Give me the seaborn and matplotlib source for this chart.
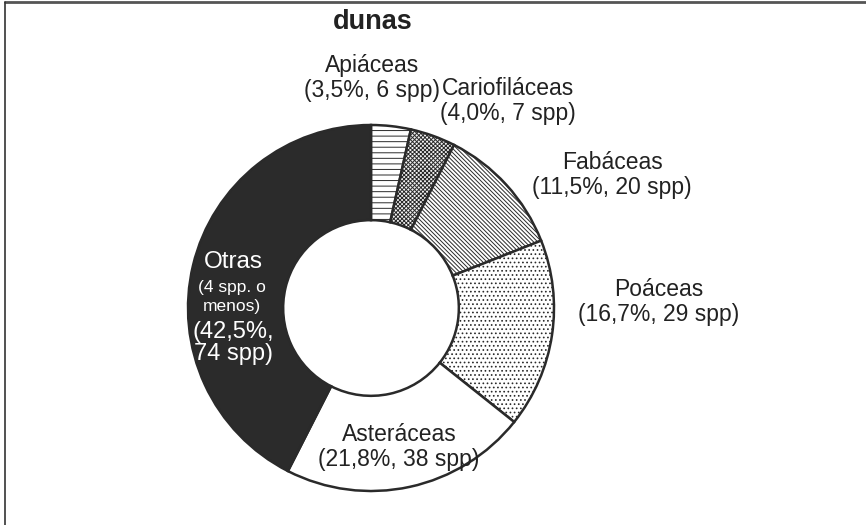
import matplotlib
matplotlib.use("Agg")
import matplotlib.pyplot as plt
import seaborn as sns
from matplotlib.lines import Line2D

sns.set_theme(style="white")
plt.rcParams['font.family'] = ['Liberation Sans', 'DejaVu Sans']
plt.rcParams['hatch.linewidth'] = 0.7
plt.rcParams['hatch.color'] = '#333333'

# data
families = ["Apiáceas", "Cariofiláceas", "Fabáceas", "Poáceas", "Asteráceas", "Otras"]
percents = [3.5, 4.0, 11.5, 16.7, 21.8, 42.5]
species = [6, 7, 20, 29, 38, 74]
pct_labels = ["3,5%", "4,0%", "11,5%", "16,7%", "21,8%", "42,5%"]

# styles
fills = ["white", "#f2f2f2", "white", "white", "white", "#2b2b2b"]
hatches = ["---", "xxxxxxxx", "\\\\\\\\\\\\\\\\", "....", "", ""]
label_pos = [(372, 78), (508, 101), (612, 175), (659, 302), (399, 447)]

W, H = 866, 525
fig = plt.figure(figsize=(W / 100, H / 100), dpi=100)
ax = fig.add_axes([0, 0, 1, 1])

cx, cy, R = 371, H - 308, 183
wedges, _ = ax.pie(percents, startangle=90, counterclock=False, radius=R,
                   center=(cx, cy), colors=fills,
                   wedgeprops=dict(width=R * 0.52, edgecolor="#2a2a2a", linewidth=1.8))
for w, h in zip(wedges, hatches):
    if h:
        w.set_hatch(h)

ax.set_xlim(0, W)
ax.set_ylim(0, H)
ax.set_aspect("equal")
ax.set_axis_off()

for name, pct, n, (x, y) in zip(families[:5], pct_labels[:5], species[:5], label_pos):
    ax.text(x, H - y, f"{name}\n({pct}, {n} spp)", ha="center", va="center",
            fontsize=16.5, color="#222222", linespacing=1.1)

# Otras label inside the dark wedge
ax.text(233, H - 262, families[5], ha="center", va="center", fontsize=17.5, color="white")
ax.text(232, H - 297, "(4 spp. o\nmenos)", ha="center", va="center", fontsize=12.5,
        color="white", linespacing=1.35)
ax.text(233, H - 343, f"({pct_labels[5]},\n{species[5]} spp)", ha="center", va="center",
        fontsize=17, color="white", linespacing=1.05)

# title
ax.text(373, H - 22, "dunas", ha="center", va="center", fontsize=19.5,
        fontweight="bold", color="#222222")

# frame (top and left)
fig.add_artist(Line2D([5 / W, 1], [1 - 1.5 / H, 1 - 1.5 / H], transform=fig.transFigure,
                      color="#555555", linewidth=2))
fig.add_artist(Line2D([5 / W, 5 / W], [0, 1 - 1.5 / H], transform=fig.transFigure,
                      color="#333333", linewidth=1.2))

fig.savefig("out.png", dpi=100)
